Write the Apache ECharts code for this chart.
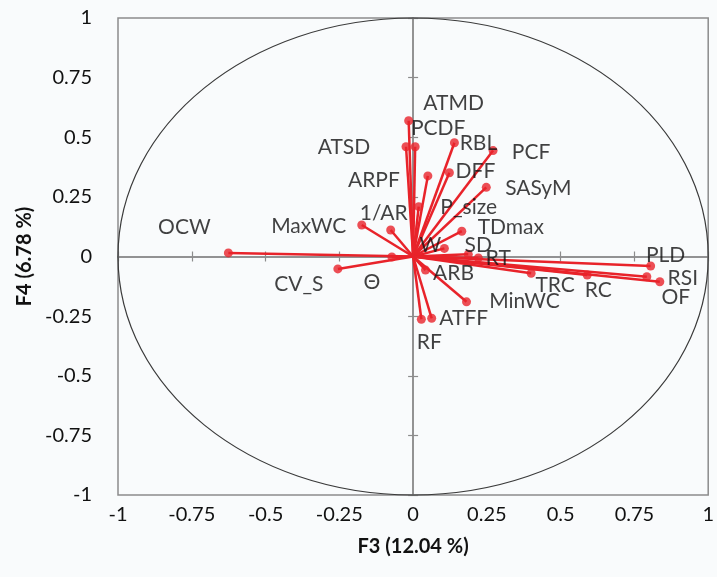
<!DOCTYPE html>
<html>
<head>
<meta charset="utf-8">
<script src="https://cdn.jsdelivr.net/npm/echarts@6/dist/echarts.min.js"></script>
<style>
html,body{margin:0;padding:0;background:#f9fbfc;}
#chart{width:717px;height:577px;}
</style>
</head>
<body>
<div id="chart"></div>
<script>
// Variable names and loadings (F3, F4)
const names = ['OCW','MaxWC','1/AR','ARPF','ATSD','ATMD','PCDF','RBL','PCF','DFF','SASyM','P_size','TDmax','W','SD','RT','ARB','\u0398','CV_S','MinWC','TRC','RC','PLD','RSI','OF','ATFF','RF'];
const f3 = [-0.626,-0.174,-0.076,0.050,-0.024,-0.015,0.007,0.140,0.271,0.123,0.248,0.019,0.165,0.106,0.187,0.221,0.042,-0.072,-0.255,0.181,0.400,0.590,0.805,0.836,0.792,0.063,0.028];
const f4 = [0.015,0.132,0.111,0.338,0.460,0.569,0.460,0.477,0.444,0.351,0.290,0.209,0.106,0.034,0.009,-0.006,-0.057,-0.002,-0.052,-0.190,-0.070,-0.078,-0.040,-0.106,-0.085,-0.259,-0.263];
// label placement (style only): pixel offsets from the point
const labelOffsets = [[-44,-26],[-53,1],[-7,-17],[-54,4],[-62,0],[45,-18],[23,-19],[24,0],[38,2],[26,-2],[52,1],[50,1],[49,-4],[-14,-3],[10,-9],[20,0],[28,3],[-20,25],[-39,15],[58,-1],[24,12],[11,15],[15,-11],[23,-4],[29,20],[32,0],[8,23]];
const axisMin = -1, axisMax = 1, axisStep = 0.25;
const xTitle = 'F3 (12.04 %)';
const yTitle = 'F4 (6.78 %)';

const FONT = 'Lato, "Open Sans", sans-serif';
const RED = '#e8232a';
const GREY = '#8c8c8c';
const TEXT = '#111';

const points = names.map((n, i) => ({
  name: n,
  value: [f3[i], f4[i]],
  label: { offset: labelOffsets[i] }
}));

function baseAxis(extra) {
  return Object.assign({
    type: 'value', min: axisMin, max: axisMax, interval: axisStep,
    splitLine: { show: false }
  }, extra);
}

const option = {
  backgroundColor: '#f9fbfc',
  animation: false,
  grid: { left: 118, right: 6, top: 18, bottom: 82, show: true, borderColor: GREY, borderWidth: 1.5, backgroundColor: 'transparent' },
  xAxis: [
    baseAxis({ position: 'bottom', axisLine: { show: false, onZero: false }, axisTick: { show: false },
      axisLabel: { fontSize: 20, fontFamily: FONT, color: TEXT, margin: 10 },
      name: xTitle, nameLocation: 'middle', nameGap: 42,
      nameTextStyle: { fontSize: 20, fontWeight: 'bold', fontFamily: FONT, color: TEXT } }),
    baseAxis({ position: 'bottom', axisLine: { show: true, onZero: true, lineStyle: { color: GREY, width: 1.5 } },
      axisTick: { show: true, inside: false, length: 5, lineStyle: { color: GREY, width: 1.2 } }, axisLabel: { show: false } }),
    baseAxis({ position: 'top', axisLine: { show: true, onZero: true, lineStyle: { color: GREY, width: 1.5 } },
      axisTick: { show: true, inside: false, length: 5, lineStyle: { color: GREY, width: 1.2 } }, axisLabel: { show: false } })
  ],
  yAxis: [
    baseAxis({ position: 'left', axisLine: { show: false, onZero: false }, axisTick: { show: false },
      axisLabel: { fontSize: 20, fontFamily: FONT, color: TEXT, margin: 26 },
      name: yTitle, nameLocation: 'middle', nameGap: 82, nameRotate: 90,
      nameTextStyle: { fontSize: 20, fontWeight: 'bold', fontFamily: FONT, color: TEXT } }),
    baseAxis({ position: 'left', axisLine: { show: true, onZero: true, lineStyle: { color: GREY, width: 1.5 } },
      axisTick: { show: true, inside: false, length: 5, lineStyle: { color: GREY, width: 1.2 } }, axisLabel: { show: false } }),
    baseAxis({ position: 'right', axisLine: { show: true, onZero: true, lineStyle: { color: GREY, width: 1.5 } },
      axisTick: { show: true, inside: false, length: 5, lineStyle: { color: GREY, width: 1.2 } }, axisLabel: { show: false } })
  ],
  series: [
    {
      type: 'custom', name: 'circle', silent: true, z: 1,
      data: [[0, 0, 1]],
      renderItem: function (params, api) {
        const c = api.coord([api.value(0), api.value(1)]);
        const s = api.size([api.value(2), api.value(2)]);
        return { type: 'ellipse', shape: { cx: c[0], cy: c[1], rx: s[0], ry: s[1] },
          style: { fill: 'none', stroke: '#3a3a3a', lineWidth: 1.2 } };
      }
    },
    {
      type: 'custom', name: 'vectors', silent: true, z: 3,
      data: points.map(p => p.value),
      renderItem: function (params, api) {
        const o = api.coord([0, 0]);
        const p = api.coord([api.value(0), api.value(1)]);
        return { type: 'line', shape: { x1: o[0], y1: o[1], x2: p[0], y2: p[1] },
          style: { stroke: RED, lineWidth: 2.5 } };
      }
    },
    {
      type: 'scatter', name: 'vars', z: 4,
      symbol: 'circle', symbolSize: 9,
      itemStyle: { color: RED },
      label: { show: true, position: 'inside', formatter: '{b}', fontSize: 21, fontFamily: FONT, color: TEXT, align: 'center', verticalAlign: 'middle' },
      data: points
    }
  ]
};

const chart = echarts.init(document.getElementById('chart'), null, { renderer: 'canvas' });
chart.setOption(option);
</script>
</body>
</html>
